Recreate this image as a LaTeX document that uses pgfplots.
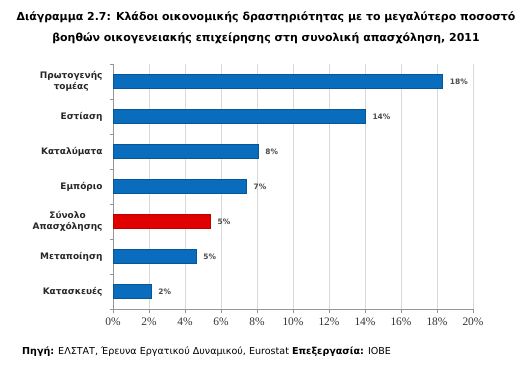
\documentclass[border=0pt]{standalone}
\usepackage{pgfplots}
\pgfplotsset{compat=1.18}
\usepackage{fontspec}
\setmainfont{DejaVu Sans}
\newfontfamily\timesf{Liberation Serif}
\definecolor{barblue}{RGB}{10,108,188}
\definecolor{barred}{RGB}{224,0,0}
\definecolor{gridg}{RGB}{217,217,217}
\definecolor{axg}{RGB}{150,150,150}
\begin{document}
\begin{tikzpicture}[x=1bp,y=1bp]
\useasboundingbox (0,0) rectangle (532,-367);
\node[font=\bfseries\fontsize{11}{13}\selectfont] at (266,-17) {Διάγραμμα 2.7: Κλάδοι οικονομικής δραστηριότητας με το μεγαλύτερο ποσοστό};
\node[font=\bfseries\fontsize{11}{13}\selectfont] at (266,-38) {βοηθών οικογενειακής επιχείρησης στη συνολική απασχόληση, 2011};
\node[anchor=west,font=\fontsize{9.6}{11}\selectfont,inner sep=0pt] at (22,-352) {\textbf{Πηγή:} ΕΛΣΤΑΤ, Έρευνα Εργατικού Δυναμικού, Eurostat \textbf{Επεξεργασία:} ΙΟΒΕ};
\begin{axis}[
  at={(113bp,-309bp)}, anchor=south west,
  scale only axis, width=360bp, height=245bp,
  xbar, bar width=14bp, bar shift=0pt,
  xmin=0, xmax=20, ymin=-0.5, ymax=6.5,
  axis x line*=bottom, axis y line*=left,
  axis line style={axg},
  xtick={0,2,...,20},
  xticklabels={0\%,2\%,4\%,6\%,8\%,10\%,12\%,14\%,16\%,18\%,20\%},
  xticklabel style={font=\timesf\fontsize{11.5}{13}\selectfont, text=black!80, yshift=-1bp},
  xmajorgrids, grid style={gridg},
  x tick style={axg}, major tick length=4bp,
  xtick align=outside,
  ytick={0,...,6},
  yticklabels={Κατασκευές,Μεταποίηση,{Σύνολο\\Απασχόλησης},Εμπόριο,Καταλύματα,Εστίαση,{Πρωτογενής\\τομέας}},
  yticklabel style={font=\bfseries\fontsize{9}{11}\selectfont, align=center, text=black!85, xshift=-3bp},
  y tick style={draw=none},
  minor ytick={-0.5,0.5,...,6.5},
  minor y tick style={draw=axg},
  minor tick length=3bp,
  ytick align=outside,
  point meta=explicit symbolic,
  nodes near coords,
  nodes near coords style={font=\bfseries\fontsize{7.5}{9}\selectfont, text=black!70, anchor=west, xshift=4bp},
]
\addplot[fill=barblue, draw=barblue!80!black] coordinates {
(2.1,0) [2\%]
(4.6,1) [5\%]
(7.4,3) [7\%]
(8.05,4) [8\%]
(14.0,5) [14\%]
(18.3,6) [18\%]
};
\addplot[fill=barred, draw=barred!85!black] coordinates {
(5.4,2) [5\%]
};
\end{axis}
\end{tikzpicture}
\end{document}
